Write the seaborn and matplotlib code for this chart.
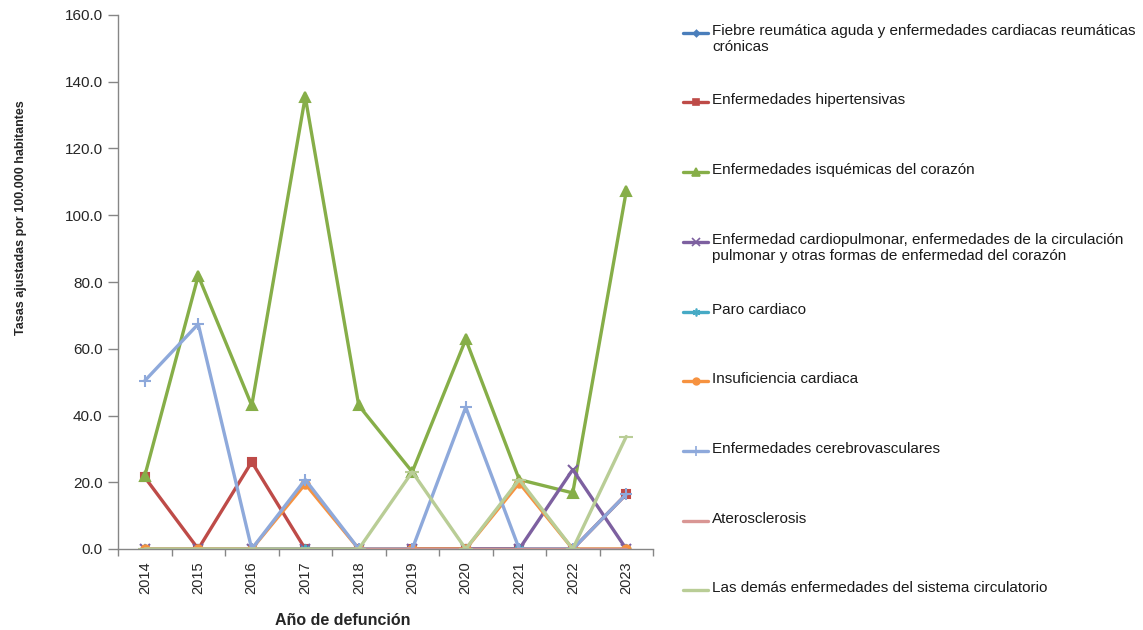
import numpy as np
import pandas as pd
import matplotlib
matplotlib.use("Agg")
import matplotlib.pyplot as plt
from matplotlib.lines import Line2D
import seaborn as sns

years = ["2014", "2015", "2016", "2017", "2018", "2019", "2020", "2021", "2022", "2023"]

series_names = [
    "Fiebre reumática aguda y enfermedades cardiacas reumáticas\ncrónicas",
    "Enfermedades hipertensivas",
    "Enfermedades isquémicas del corazón",
    "Enfermedad cardiopulmonar, enfermedades de la circulación\npulmonar y otras formas de enfermedad del corazón",
    "Paro cardiaco",
    "Insuficiencia cardiaca",
    "Enfermedades cerebrovasculares",
    "Aterosclerosis",
    "Las demás enfermedades del sistema circulatorio",
]

fiebre = [0, 0, 0, 0, 0, 0, 0, 0, 0, 0]
hipertensivas = [21.5, 0, 26.1, 0, 0, 0, 0, 0, 0, 16.4]
isquemicas = [21.9, 81.9, 43.0, 135.5, 43.0, 23.1, 62.8, 20.8, 16.8, 107.2]
cardiopulmonar = [0, 0, 0, 0, 0, 0, 0, 0, 23.8, 0]
paro = [0, 0, 0, 0, 0, 0, 0, 0, 0, 0]
insuficiencia = [0, 0, 0, 19.5, 0, 0, 0, 19.8, 0, 0]
cerebrovasculares = [50.4, 67.4, 0, 20.8, 0, 0, 42.5, 0, 0, 16.4]
aterosclerosis = [0, 0, 0, 0, 0, 0, 0, 0, 0, 0]
demas = [0, 0, 0, 0, 0, 23.1, 0, 20.8, 0, 33.7]

all_values = [fiebre, hipertensivas, isquemicas, cardiopulmonar, paro,
              insuficiencia, cerebrovasculares, aterosclerosis, demas]

colors = ["#4A7EBB", "#BE4B48", "#86AE48", "#7D60A0", "#46AAC5",
          "#F69240", "#8EA9DB", "#D99694", "#B9CD96"]
markers = ["D", "s", "^", "x", (6, 2, 0), "o", "+", None, "_"]
msizes = [4, 6, 7, 7, 7, 6, 9, 0, 10]

sns.set_theme(style="white")
plt.rcParams["font.family"] = ["Liberation Sans", "DejaVu Sans"]

fig = plt.figure(figsize=(11.43, 6.30), dpi=100)
ax = fig.add_axes([118 / 1143, 1 - 549 / 630, (653 - 118) / 1143, (549 - 15) / 630])

rows = []
for name, vals in zip(series_names, all_values):
    for i, (y, v) in enumerate(zip(years, vals)):
        rows.append({"serie": name, "idx": i, "year": y, "valor": v})
df = pd.DataFrame(rows)

for name, c, m, ms in zip(series_names, colors, markers, msizes):
    sub = df[df["serie"] == name]
    kw = dict(marker=m, markersize=ms, markeredgecolor=c, markerfacecolor=c,
              markeredgewidth=1.5) if m is not None else {}
    sns.lineplot(data=sub, x="idx", y="valor", color=c, linewidth=2.4,
                 ax=ax, legend=False, **kw)

ax.set_xlim(-0.5, len(years) - 0.5)
ax.set_ylim(0, 160)
ax.set_yticks(np.arange(0, 161, 20))
ax.set_yticklabels([f"{v:.1f}" for v in np.arange(0, 161, 20)], fontsize=11)
ax.set_xticks(range(len(years)))
ax.set_xticklabels(years, rotation=90, fontsize=10.5)
ax.set_xticks(np.arange(-0.5, len(years), 1), minor=True)
ax.tick_params(axis="x", which="major", length=0, pad=9)
ax.tick_params(axis="x", which="minor", length=5, color="#868686", width=1, direction="out", bottom=True)
ax.tick_params(axis="y", which="major", length=7, color="#868686", width=1, direction="out", left=True, pad=4)

for s in ["top", "right"]:
    ax.spines[s].set_visible(False)
for s in ["left", "bottom"]:
    ax.spines[s].set_color("#868686")
    ax.spines[s].set_linewidth(1)

ax.set_xlabel("Año de defunción", fontsize=11.5, fontweight="bold")
ax.xaxis.set_label_coords((343 - 118) / 535, (549 - 613) / 534)
ax.set_ylabel("Tasas ajustadas por 100.000 habitantes", fontsize=9, fontweight="bold")
ax.yaxis.set_label_coords((27 - 118) / 535, (549 - 218) / 534)

# legend laid out like the original (fixed slots)
slot_y = [33, 102, 172, 242, 312, 381, 451, 521, 590]
W, H = 1143, 630
for name, c, m, ms, yy in zip(series_names, colors, markers, msizes, slot_y):
    yf = 1 - yy / H
    fig.add_artist(Line2D([683 / W, 708 / W], [yf, yf], color=c, linewidth=2.4,
                          transform=fig.transFigure))
    if m is not None and m != "_":
        fig.add_artist(Line2D([695.5 / W], [yf], color=c, marker=m, markersize=ms * 0.8,
                              markerfacecolor=c, markeredgecolor=c, markeredgewidth=1.2,
                              transform=fig.transFigure))
    fig.text(712 / W, 1 - (yy - 9) / H, name, fontsize=11, va="top", ha="left",
             color="#1a1a1a", linespacing=1.15)

fig.savefig("out.png", dpi=100)
